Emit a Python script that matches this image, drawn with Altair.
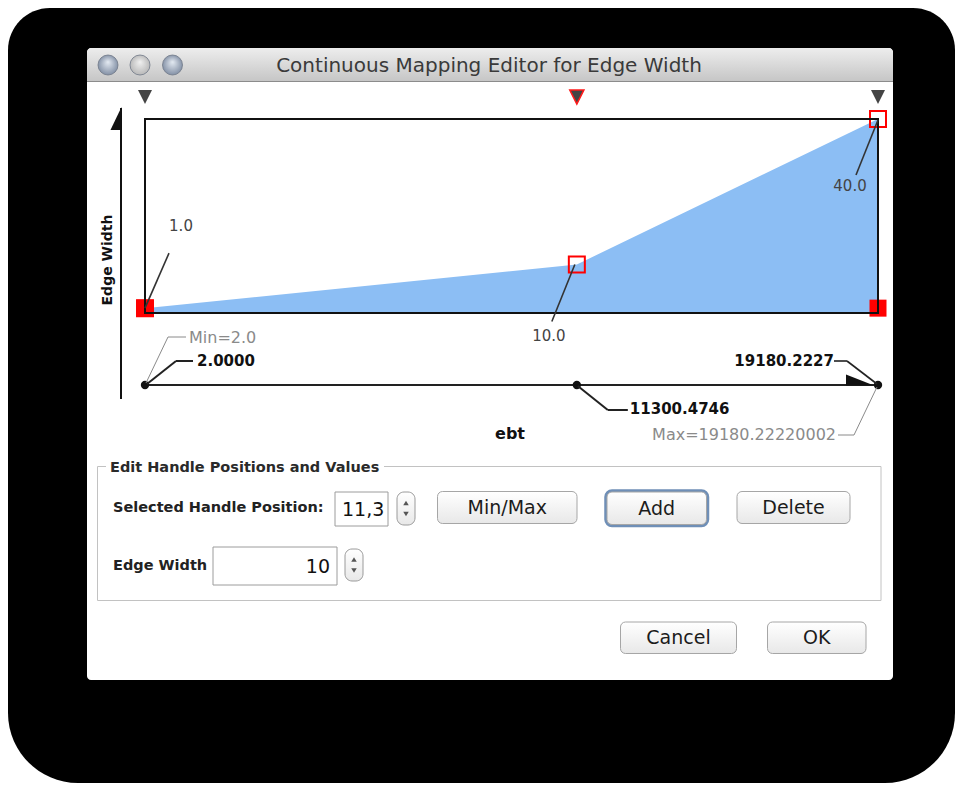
import altair as alt
import pandas as pd

# ---------------- data ----------------
handle_position = [2.0, 11300.4746, 19180.2227]
handle_value = [1.0, 10.0, 40.0]
handle_label = ["1.0", "10.0", "40.0"]
selected_handle = 1
range_min = 2.0
range_max = 19180.22220002
boundary_position = [2.0, 19180.2227]
boundary_value = [1.0, 1.0]
y_domain = [0, 40]

window_title = "Continuous Mapping Editor for Edge Width"
x_title = "ebt"
y_title = "Edge Width"
group_title = "Edit Handle Positions and Values"
position_label = "Selected Handle Position:"
position_field = "11,3"
value_label = "Edge Width"
value_field = "10"
button_labels = ["Min/Max", "Add", "Delete", "Cancel", "OK"]

# ---------------- layout ----------------
FONT = "DejaVu Sans"
CANVAS_W, CANVAS_H = 947, 775
PAGE = 8
PLOT_L, PLOT_T = 145, 119
PLOT_W, PLOT_H = 733, 194
PAD = {"left": PLOT_L - PAGE, "top": PLOT_T - PAGE,
       "right": CANVAS_W - (PLOT_L - PAGE) - PLOT_W,
       "bottom": CANVAS_H - (PLOT_T - PAGE) - PLOT_H}


def px(x):
    return x - PLOT_L


def py(y):
    return y - PLOT_T


one = alt.Chart(pd.DataFrame({"k": [0]}))


def lin(stops):
    return alt.LinearGradient(
        gradient="linear",
        stops=[alt.GradientStop(color=c, offset=o) for o, c in stops],
        x1=0, x2=0, y1=0, y2=1)


def rad(c0, c1):
    return alt.RadialGradient(
        gradient="radial",
        stops=[alt.GradientStop(color=c0, offset=0), alt.GradientStop(color=c1, offset=1)],
        x1=0.5, y1=0.35, x2=0.5, y2=0.5, r1=0, r2=0.55)


def box(x1, y1, x2, y2, **kw):
    return one.mark_rect(**kw).encode(
        x=alt.value(px(x1)), x2=alt.value(px(x2)),
        y=alt.value(py(y1)), y2=alt.value(py(y2)))


def seg(x1, y1, x2, y2, color="#222", w=1.0):
    return one.mark_rule(color=color, strokeWidth=w).encode(
        x=alt.value(px(x1)), x2=alt.value(px(x2)),
        y=alt.value(py(y1)), y2=alt.value(py(y2)))


def txt(x, y, s, size=14, weight="normal", color="#222", align="left", angle=0):
    return one.mark_text(text=s, font=FONT, fontSize=size, fontWeight=weight,
                         color=color, align=align, baseline="middle", angle=angle).encode(
        x=alt.value(px(x)), y=alt.value(py(y)))


def sym(x, y, shape, size, color, **kw):
    return one.mark_point(shape=shape, size=size, filled=True, color=color,
                          opacity=1, **kw).encode(x=alt.value(px(x)), y=alt.value(py(y)))


XS = alt.Scale(domain=[range_min, range_max], nice=False, zero=False)
YS = alt.Scale(domain=y_domain, nice=False, zero=False)
X = alt.X("pos:Q", scale=XS, axis=None)
Y = alt.Y("val:Q", scale=YS, axis=None)


def xd(v):
    return alt.XDatum(v, scale=XS, axis=None)


def dseg(xv, dx1, y1, dx2, y2, color="#222", w=1.0):
    return one.mark_rule(color=color, strokeWidth=w, xOffset=dx1, x2Offset=dx2).encode(
        x=xd(xv), x2=alt.X2Datum(xv), y=alt.value(py(y1)), y2=alt.value(py(y2)))


def dtxt(xv, dx, y, s, size=15, weight="normal", color="#222", align="left"):
    return one.mark_text(text=s, dx=dx, font=FONT, fontSize=size, fontWeight=weight,
                         color=color, align=align, baseline="middle").encode(
        x=xd(xv), y=alt.value(py(y)))


handles = pd.DataFrame({"pos": handle_position, "val": handle_value,
                        "lab": handle_label, "i": list(range(len(handle_position)))})
bounds = pd.DataFrame({"pos": boundary_position, "val": boundary_value})
dots = pd.DataFrame({"pos": [range_min, handle_position[selected_handle], range_max]})

TRI_DOWN = "M-1,-1L1,-1L0,1Z"
UP_ARROW = "M-0.48,1L0.48,-1L0.48,1Z"
FLAG = "M-1,-0.4L-1,0.4L1,0.4Z"

layers = []
# window shadow / background
layers.append(box(PAGE, PAGE, PAGE + CANVAS_W, PAGE + CANVAS_H, fill="#000000",
                  cornerRadiusTopLeft=42, cornerRadiusTopRight=42,
                  cornerRadiusBottomLeft=70, cornerRadiusBottomRight=70))
# dialog body
layers.append(box(87, 48, 893, 680, fill="#ffffff", cornerRadius=4))
layers.append(box(87, 48, 893, 81, fill=lin([(0, "#ededed"), (1, "#c6c6c6")]),
                  cornerRadiusTopLeft=5, cornerRadiusTopRight=5))
layers.append(seg(87, 81.5, 893, 81.5, "#8c8c8c", 1))
for cx, c0, c1 in [(108, "#e4eaf2", "#7c8aa0"), (140, "#f0f0f0", "#b4b4b4"), (172.5, "#e4eaf2", "#7c8aa0")]:
    layers.append(sym(cx, 65, "circle", 400, "#000", fill=rad(c0, c1), stroke="#6e7786", strokeWidth=0.8))
layers.append(txt(489, 65.5, window_title, 20, color="#3a3a3a", align="center"))

# ---------------- mapping plot ----------------
layers.append(alt.Chart(handles).mark_area(color="#8cbef4", opacity=1).encode(x=X, y=Y))
layers.append(alt.Chart(bounds).mark_point(shape="square", size=289, filled=True,
                                           color="#ff0000", opacity=1).encode(x=X, y=Y))
layers.append(alt.Chart(handles).mark_point(shape="square", size=256, filled=False,
                                            color="#ff0000", strokeWidth=2, opacity=1).encode(x=X, y=Y))
layers.append(box(PLOT_L, PLOT_T, PLOT_L + PLOT_W, PLOT_T + PLOT_H, fill="#ffffff",
                  fillOpacity=0, stroke="#111111", strokeWidth=2))

# handle triangles above the plot
layers.append(alt.Chart(handles).mark_point(shape=TRI_DOWN, size=196, filled=True,
                                            color="#444444", opacity=1).encode(x=X, y=alt.value(py(97))))
layers.append(alt.Chart(handles).transform_filter(alt.datum.i == selected_handle).mark_point(
    shape=TRI_DOWN, size=196, filled=True, fill="#444444", stroke="#ff1a1a", strokeWidth=1.6,
    opacity=1).encode(x=X, y=alt.value(py(97))))

# value labels with leader lines
label_offsets = [((0, 0), (24, -55), (36, -82)),
                 ((-2, 0), (-25, 57), (-28, 71)),
                 ((0, 1), (-22, 56), (-28, 67))]
for i, ((a, b), (c, d), (tx, ty)) in enumerate(label_offsets):
    sub = alt.Chart(handles).transform_filter(alt.datum.i == i)
    layers.append(sub.mark_rule(color="#333333", strokeWidth=1.6, xOffset=a, yOffset=b,
                                x2Offset=c, y2Offset=d).encode(
        x=X, x2=alt.X2("pos"), y=Y, y2=alt.Y2("val")))
    layers.append(sub.mark_text(dx=tx, dy=ty, font=FONT, fontSize=15, color="#444444",
                                baseline="middle", align="center").encode(x=X, y=Y, text="lab:N"))

# y axis arrow + title
layers.append(seg(121, 108, 121, 399, "#111111", 2))
layers.append(sym(116, 118.5, UP_ARROW, 529, "#111111"))
layers.append(txt(108, 260, y_title, 14, "bold", "#111111", "center", 270))

# x range line with dots
layers.append(one.mark_rule(color="#222222", strokeWidth=2).encode(
    x=xd(range_min), x2=alt.X2Datum(range_max), y=alt.value(py(385))))
layers.append(sym(859, 380, FLAG, 784, "#111111").encode(
    x=xd(range_max), y=alt.value(py(380))).mark_point(shape=FLAG, size=784, filled=True,
                                                       color="#111111", opacity=1, xOffset=-18))
layers.append(alt.Chart(dots).mark_circle(size=70, color="#111111", opacity=1).encode(
    x=X, y=alt.value(py(385))))

# bottom labels
layers.append(dseg(range_min, 1, 383, 23, 337, "#8a8a8a", 1))
layers.append(dseg(range_min, 23, 337, 41, 337, "#8a8a8a", 1))
layers.append(dtxt(range_min, 44, 338, f"Min={range_min}", 16, color="#8a8a8a"))
layers.append(dseg(range_min, 2, 384, 31, 361, "#222222", 2))
layers.append(dseg(range_min, 31, 361, 48, 361, "#222222", 2))
layers.append(dtxt(range_min, 52, 361, f"{handle_position[0]:.4f}", 15, "bold", "#111111"))

sel = handle_position[selected_handle]
layers.append(dseg(sel, 1, 386, 31, 410, "#222222", 2))
layers.append(dseg(sel, 31, 410, 51, 410, "#222222", 2))
layers.append(dtxt(sel, 53, 409, f"{sel:.4f}", 15, "bold", "#111111"))

layers.append(dseg(range_max, -1, 384, -31, 361, "#222222", 1.6))
layers.append(dseg(range_max, -31, 361, -44, 361, "#222222", 1.6))
layers.append(dtxt(range_max, -44, 361, f"{handle_position[2]:.4f}", 15, "bold", "#111111", "right"))
layers.append(dseg(range_max, -1, 387, -24, 435, "#8a8a8a", 1))
layers.append(dseg(range_max, -24, 435, -40, 435, "#8a8a8a", 1))
layers.append(dtxt(range_max, -42, 435, f"Max={range_max}", 16, color="#8a8a8a", align="right"))

layers.append(txt(510, 434, x_title, 16, "bold", "#111111", "center"))

# ---------------- edit panel ----------------
layers.append(box(97.5, 466.5, 881, 600.5, fill="#ffffff", fillOpacity=0, stroke="#c2c2c2", strokeWidth=1))
layers.append(box(106, 458, 384, 475, fill="#ffffff"))
layers.append(txt(110, 467.5, group_title, 14.5, "bold", "#2a2a2a"))

layers.append(txt(113, 508, position_label, 14.5, "bold", "#222222"))
layers.append(box(335, 492, 388, 526, fill="#ffffff", stroke="#9c9c9c", strokeWidth=1))
layers.append(txt(342, 509.5, position_field, 19, color="#111111"))

layers.append(txt(113, 566, value_label, 14.5, "bold", "#222222"))
layers.append(box(213, 547, 337, 585, fill="#ffffff", stroke="#9c9c9c", strokeWidth=1))
layers.append(txt(330, 566.5, value_field, 19, color="#111111", align="right"))

BTN = lin([(0, "#ffffff"), (1, "#e8e8e8")])
for (x1, y1, x2, y2) in [(397, 492, 415, 525), (345, 549, 363, 581)]:
    layers.append(box(x1, y1, x2, y2, fill=BTN, stroke="#9a9a9a", strokeWidth=1, cornerRadius=7))
    cx, cy = (x1 + x2) / 2, (y1 + y2) / 2
    layers.append(sym(cx, cy - 5.5, "triangle-up", 30, "#555555"))
    layers.append(sym(cx, cy + 5.5, "triangle-down", 30, "#555555"))

buttons = [(437.5, 491.5, 577, 523.5, button_labels[0], False),
           (607, 492, 706.5, 524.5, button_labels[1], True),
           (737, 491.5, 850, 523.5, button_labels[2], False),
           (620.5, 622, 736.5, 653.5, button_labels[3], False),
           (767.5, 622, 866, 653.5, button_labels[4], False)]
for x1, y1, x2, y2, lab, focus in buttons:
    if focus:
        layers.append(box(x1 - 1, y1 - 1, x2 + 1, y2 + 1, fill="#ffffff", fillOpacity=0,
                          stroke="#6f8fb7", strokeWidth=3.5, cornerRadius=6))
    layers.append(box(x1, y1, x2, y2, fill=BTN, stroke="#a6a6a6", strokeWidth=1, cornerRadius=5))
    layers.append(txt((x1 + x2) / 2, (y1 + y2) / 2 + 0.5, lab, 19, color="#1c1c1c", align="center"))

chart = alt.layer(*layers).properties(
    width=PLOT_W, height=PLOT_H, padding=PAD,
    autosize=alt.AutoSizeParams(type="none"), background="#ffffff",
).configure_view(stroke=None)

chart.save("out.html", embed_options={"renderer": "svg", "actions": False})
